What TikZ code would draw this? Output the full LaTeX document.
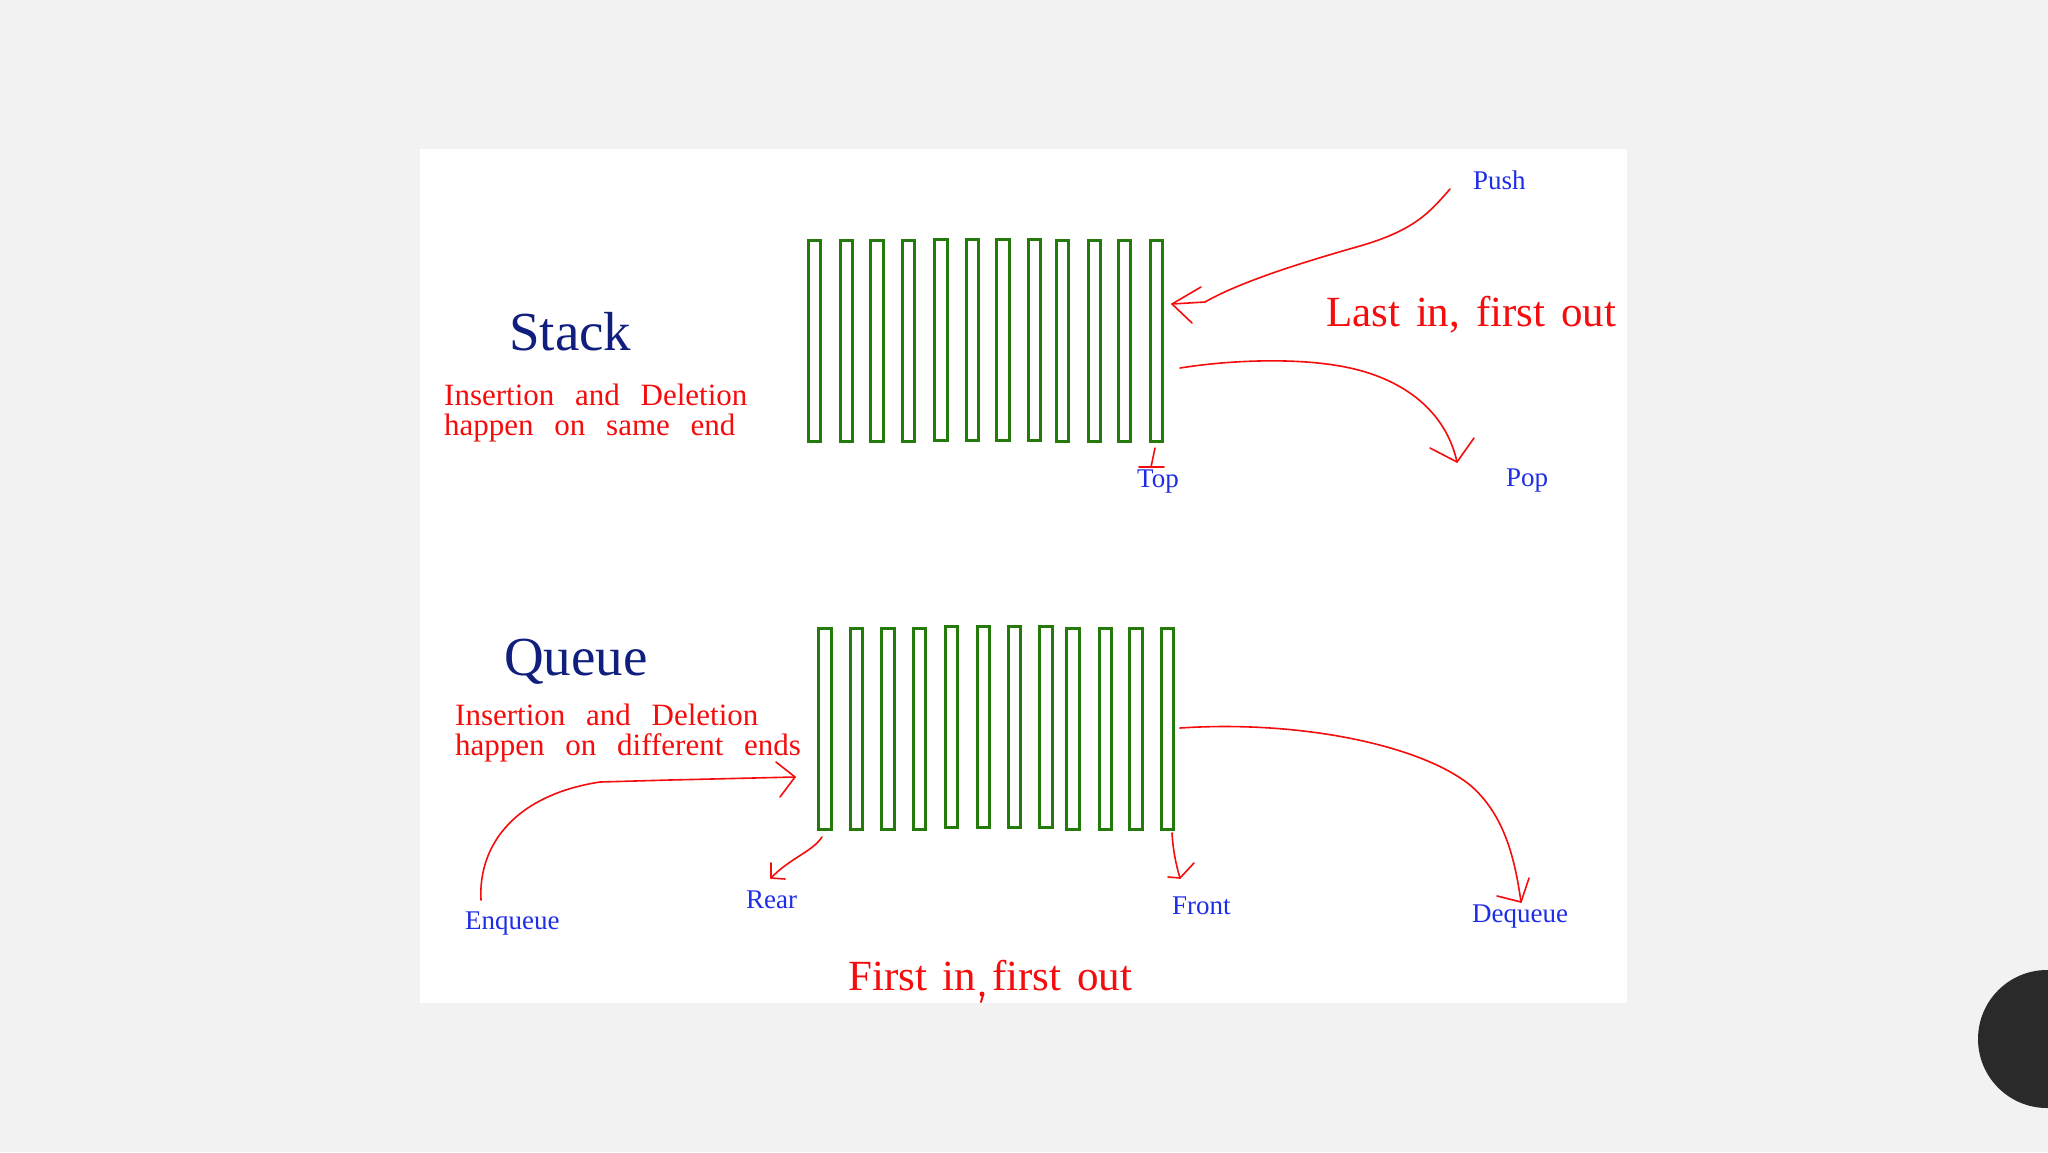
\documentclass[tikz,border=0pt]{standalone}
\usepackage{fontspec}
\setmainfont{Liberation Serif}
\newfontfamily\bigfont[WordSpace=1.47]{Liberation Serif}
\newcommand\wsp{\hspace{0.67em}}
\definecolor{bg}{RGB}{242,242,242}
\definecolor{navy}{RGB}{16,30,125}
\definecolor{rd}{RGB}{245,12,12}
\definecolor{bl}{RGB}{30,45,230}
\definecolor{grn}{RGB}{36,122,10}
\definecolor{dark}{RGB}{43,42,43}
\begin{document}
\begin{tikzpicture}[x=1pt,y=-1pt,
  bar/.style={draw=grn,line width=3pt,minimum width=12.3pt,minimum height=201pt,inner sep=0pt},
  title/.style={text=navy,font=\fontsize{55}{60}\selectfont,inner sep=0pt,anchor=base west},
  desc/.style={text=rd,font=\fontsize{31}{30}\selectfont,inner sep=0pt,anchor=base west,align=left},
  big/.style={text=rd,font=\bigfont\fontsize{43}{44}\selectfont,inner sep=0pt,anchor=base west},
  lbl/.style={text=bl,font=\fontsize{27}{28}\selectfont,inner sep=0pt,anchor=base west},
  pen/.style={draw=rd,line width=1.6pt,line cap=round,line join=round}]
\useasboundingbox (0,0) rectangle (2048,1152);
\fill[bg] (0,0) rectangle (2048,1152);
\fill[white] (420,149) rectangle (1627,1003);
\fill[dark] (2047,1039) circle[radius=69pt];

% stack bars
\foreach \i/\x/\y in {1/814.3/341,2/846.5/341,3/877.1/341,4/908.7/341,5/940.9/339.5,6/972.5/339.5,7/1003.1/339.5,8/1034.7/339.5,9/1062.3/341,10/1094.4/341,11/1124.5/341,12/1156.7/341}
  \node[bar] (s\i) at (\x,\y) {};
% queue bars
\foreach \i/\x/\y in {1/825.1/729,2/856.7/729,3/887.9/729,4/919.5/729,5/951.2/727,6/983.8/727,7/1014.4/727,8/1046.1/727,9/1073.1/729,10/1105.3/729,11/1135.9/729,12/1167.5/729}
  \node[bar] (q\i) at (\x,\y) {};

% texts
\node[title] (stack) at (509,350) {Stack};
\node[title] (queue) at (504,675) {Queue};
\node[desc] (sdesc) at (444,435) {Insertion\wsp and\wsp Deletion\\happen\wsp on\wsp same\wsp end};
\node[desc] (qdesc) at (455,755) {Insertion\wsp and\wsp Deletion\\happen\wsp on\wsp different\wsp ends};
\node[big] (lifo) at (1326,326) {Last in, first out};
\node[big] (fifo) at (848,990) {First in first out};
\node[lbl] (push) at (1473,189) {Push};
\node[lbl] (top) at (1137,487) {Top};
\node[lbl] (pop) at (1506,486) {Pop};
\node[lbl] (enq) at (465,929) {Enqueue};
\node[lbl] (rear) at (746,908) {Rear};
\node[lbl] (front) at (1172,914) {Front};
\node[lbl] (deq) at (1472,922) {Dequeue};

% coordinates
\coordinate (pushS) at (1450,189);
\coordinate (pushM) at (1205,302);
\coordinate (pushT) at (1172,304);
\coordinate (popS) at (1180,368);
\coordinate (popT) at (1457,462);
\coordinate (enqS) at (481,900);
\coordinate (enqT) at (795,777);
\coordinate (rearS) at (822,837);
\coordinate (rearT) at (771,878);
\coordinate (frontS) at (1172,833);
\coordinate (frontT) at (1180,878);
\coordinate (deqS) at (1180,728);
\coordinate (deqT) at (1521,902);

% push
\path[pen] (pushS) .. controls (1430,212) and (1415,230) .. (1360,246)
  .. controls (1300,263) and (1240,282) .. (pushM) -- (pushT);
\path[pen] (1201,287) -- (pushT) -- (1192,323);
% pop
\path[pen] (popS) .. controls (1230,360) and (1300,357) .. (1350,368)
  .. controls (1405,380) and (1446,412) .. (popT);
\path[pen] (1430,448) -- (popT) -- (1474,438);
% top tick
\path[pen] (1155,448) -- (1151,467);
\path[pen] (1139,467) -- (1164,467);
% enqueue
\path[pen] (enqS) .. controls (478,845) and (515,795) .. (600,782) -- (670,780) -- (enqT);
\path[pen] (776,762) -- (enqT) -- (780,797);
% rear
\path[pen] (rearS) .. controls (812,852) and (790,858) .. (rearT);
\path[pen] (771,863) -- (rearT) -- (785,879);
% front
\path[pen] (frontS) .. controls (1173,850) and (1176,865) .. (frontT);
\path[pen] (1194,863) -- (frontT) -- (1168,877);
% dequeue
\path[pen] (deqS) .. controls (1300,720) and (1420,745) .. (1470,785)
  .. controls (1505,815) and (1515,860) .. (deqT);
\path[pen] (1529,878) -- (deqT) -- (1497,896);
% comma mark
\fill[rd] (982,994) circle[radius=2.5pt];
\path[pen,line width=2pt] (983,995) -- (981,1002);
\end{tikzpicture}
\end{document}
